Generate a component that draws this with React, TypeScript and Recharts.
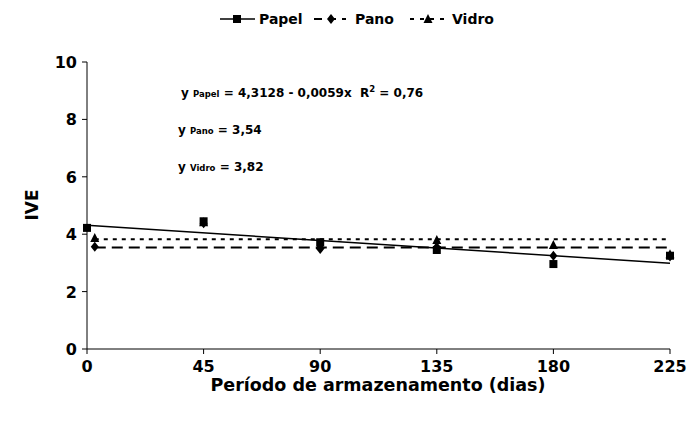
import React from 'react';
import { ComposedChart, Scatter, Line, XAxis, YAxis } from 'recharts';

// Storage period (days) and IVE readings for each packaging
const days = [0, 45, 90, 135, 180, 225];
const shiftedDays = [3, 45, 90, 135, 180, 225];
const papel = [4.22, 4.45, 3.72, 3.45, 2.96, 3.25];
const pano = [3.56, 4.38, 3.48, 3.55, 3.25, 3.22];
const vidro = [3.87, 4.42, 3.62, 3.8, 3.62, 3.3];

const xTicks = [0, 45, 90, 135, 180, 225];
const yTicks = [0, 2, 4, 6, 8, 10];

// Fitted models
const papelIntercept = 4.3128;
const papelSlope = -0.0059;
const papelR2 = 0.76;
const panoMean = 3.54;
const vidroMean = 3.82;

const W = 689;
const H = 429;
const FONT = '"DejaVu Sans", Arial, sans-serif';

const papelPts = days.map((x, i) => ({ x, y: papel[i] }));
const panoPts = shiftedDays.map((x, i) => ({ x, y: pano[i] }));
const vidroPts = shiftedDays.map((x, i) => ({ x, y: vidro[i] }));

const papelFit = [0, 225].map((x) => ({ x, y: papelIntercept + papelSlope * x }));
const panoFit = [3, 225].map((x) => ({ x, y: panoMean }));
const vidroFit = [3, 225].map((x) => ({ x, y: vidroMean }));

const fmt = (v: number, d: number) => v.toFixed(d).replace('.', ',');

const Square = (p: any) => (
  <rect x={p.cx - 4} y={p.cy - 4} width={8} height={8} fill="#000" />
);
const Diamond = (p: any) => (
  <path d={`M${p.cx},${p.cy - 5}L${p.cx + 4},${p.cy}L${p.cx},${p.cy + 5}L${p.cx - 4},${p.cy}Z`} fill="#000" />
);
const Triangle = (p: any) => (
  <path d={`M${p.cx},${p.cy - 5}L${p.cx + 4.5},${p.cy + 4}L${p.cx - 4.5},${p.cy + 4}Z`} fill="#000" />
);

const XTick = (p: any) => (
  <text x={p.x} y={p.y + 16} textAnchor="middle" fontFamily={FONT} fontWeight="bold" fontSize={16} fill="#000">
    {p.payload.value}
  </text>
);
const YTick = (p: any) => (
  <text x={p.x - 3} y={p.y + 6} textAnchor="end" fontFamily={FONT} fontWeight="bold" fontSize={16} fill="#000">
    {p.payload.value}
  </text>
);

export default function App() {
  return (
    <div style={{ position: 'absolute', left: 0, top: 0, width: W, height: H, background: '#fff' }}>
      <ComposedChart width={W} height={H} margin={{ top: 62, right: 19, bottom: 0, left: 0 }}>
        <XAxis
          type="number"
          dataKey="x"
          domain={[0, 225]}
          ticks={xTicks}
          height={80}
          stroke="#000"
          tickSize={5}
          tick={<XTick />}
        />
        <YAxis
          type="number"
          dataKey="y"
          domain={[0, 10]}
          ticks={yTicks}
          width={87}
          stroke="#000"
          tickSize={5}
          tick={<YTick />}
        />
        <Line data={papelFit} dataKey="y" stroke="#000" strokeWidth={1.5} dot={false} isAnimationActive={false} />
        <Line data={panoFit} dataKey="y" stroke="#000" strokeWidth={2} strokeDasharray="11 6" dot={false} isAnimationActive={false} />
        <Line data={vidroFit} dataKey="y" stroke="#000" strokeWidth={2} strokeDasharray="4 5" dot={false} isAnimationActive={false} />
        <Scatter data={vidroPts} dataKey="y" shape={<Triangle />} isAnimationActive={false} />
        <Scatter data={panoPts} dataKey="y" shape={<Diamond />} isAnimationActive={false} />
        <Scatter data={papelPts} dataKey="y" shape={<Square />} isAnimationActive={false} />
      </ComposedChart>
      <svg width={W} height={H} style={{ position: 'absolute', left: 0, top: 0, pointerEvents: 'none' }}>
        <g fontFamily={FONT} fontWeight="bold" fill="#000">
          {/* legend */}
          <line x1={220} y1={19} x2={255} y2={19} stroke="#000" strokeWidth={1.5} />
          <rect x={233} y={15} width={8} height={8} />
          <text x={259} y={24} fontSize={14}>Papel</text>
          <line x1={314} y1={19} x2={346} y2={19} stroke="#000" strokeWidth={2} strokeDasharray="8 6" />
          <path d="M331,14L335,19L331,24L327,19Z" />
          <text x={355} y={24} fontSize={14}>Pano</text>
          <line x1={410} y1={19} x2={446} y2={19} stroke="#000" strokeWidth={2} strokeDasharray="4 6" />
          <path d="M428,14L432.5,23L423.5,23Z" />
          <text x={452} y={24} fontSize={14}>Vidro</text>

          {/* fitted equations */}
          <text x={181} y={97} fontSize={12}>
            y <tspan fontSize={8.5}>Papel</tspan> = {fmt(papelIntercept, 4)} - {fmt(-papelSlope, 4)}x{'\u00A0\u00A0'}R
            <tspan fontSize={8.5} dy={-5}>2</tspan>
            <tspan dy={5}> = {fmt(papelR2, 2)}</tspan>
          </text>
          <text x={178} y={134} fontSize={12}>
            y <tspan fontSize={8.5}>Pano</tspan> = {fmt(panoMean, 2)}
          </text>
          <text x={178} y={171} fontSize={12}>
            y <tspan fontSize={8.5}>Vidro</tspan> = {fmt(vidroMean, 2)}
          </text>

          {/* axis titles */}
          <text x={38} y={205} fontSize={17} textAnchor="middle" transform="rotate(-90 38 205)">IVE</text>
          <text x={378} y={391} fontSize={17.5} textAnchor="middle">Período de armazenamento (dias)</text>
        </g>
      </svg>
    </div>
  );
}
